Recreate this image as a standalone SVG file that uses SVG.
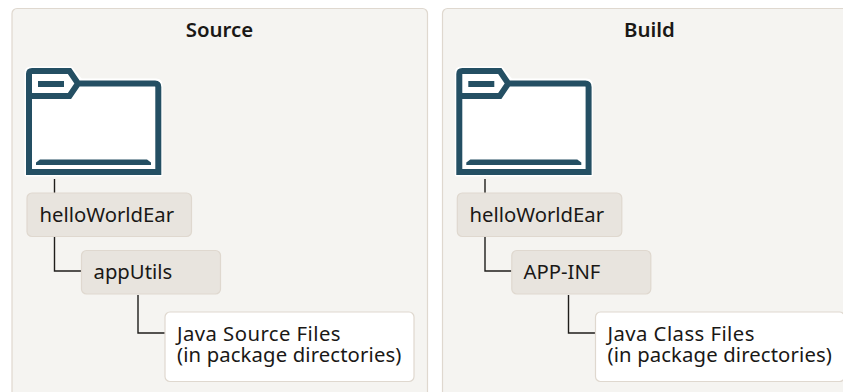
<svg xmlns="http://www.w3.org/2000/svg" width="843" height="392" viewBox="0 0 843 392">
<style>
text{font-family:"Noto Sans","Open Sans","Liberation Sans",sans-serif;font-size:20.300px;fill:#1a1816}
.t{font-weight:600;font-size:20.400px;text-anchor:middle}
.l1{letter-spacing:.45px}
.l2{letter-spacing:.13px}
.panel{fill:#f5f4f1;stroke:#dfd8cf;stroke-width:1.2}
.dir{fill:#e8e4de;stroke:#dfd8cf;stroke-width:1.2}
.file{fill:#fff;stroke:#dfd8cf;stroke-width:1.2}
.c{fill:none;stroke:#1f1d1b;stroke-width:1.4}
.halo{fill:#fff;stroke:#fff;stroke-width:3;stroke-linejoin:round}
.fo{fill:none;stroke:#244f63;stroke-width:6}
.fb{fill:#244f63}
</style>
<defs>
<g id="folder">
<path class="halo" d="M26 175V73Q26 68 31 68H71L81 80H156Q161 80 161 85V175Z"/>
<path class="fo" d="M29 172V74Q29 71 32 71H69.500L78 83.500H155Q158.300 83.500 158.300 87V172ZM29 96H69.500L78 83.500"/>
<rect class="fb" x="38" y="81" width="26" height="6"/>
<path class="fb" d="M36 162.500L40 159.500H147L151 162.500V165H36Z"/>
</g>
</defs>
<g id="panel-source">
<rect class="panel" x="12" y="8.500" width="415.500" height="400" rx="5"/>
<text class="t" x="219.500" y="36.500">Source</text>
</g>
<g id="panel-build">
<rect class="panel" x="442.500" y="8.500" width="415.500" height="400" rx="5"/>
<text class="t" x="649.500" y="36.500">Build</text>
</g>
<g id="connectors">
<path class="c" d="M54.500 179V193"/>
<path class="c" d="M54.500 237V271H81"/>
<path class="c" d="M138 295V333H165"/>
<path class="c" d="M485 179V193"/>
<path class="c" d="M485 237V271H511.500"/>
<path class="c" d="M568.500 295V333H595.500"/>
</g>
<g id="folder-source"><use href="#folder"/></g>
<g id="folder-build"><use href="#folder" x="430.300"/></g>
<g id="node-helloWorldEar-source">
<rect class="dir" x="27" y="193" width="164.500" height="43.500" rx="5"/>
<text x="39.500" y="221.500">helloWorldEar</text>
</g>
<g id="node-appUtils">
<rect class="dir" x="81.500" y="250.500" width="139" height="43.500" rx="5"/>
<text x="93.500" y="279">appUtils</text>
</g>
<g id="node-java-source">
<rect class="file" x="165" y="312" width="249" height="69.500" rx="5"/>
<text class="l1" x="177" y="340.500">Java Source Files</text>
<text class="l2" x="177" y="361.500">(in package directories)</text>
</g>
<g id="node-helloWorldEar-build">
<rect class="dir" x="457.300" y="193" width="164.500" height="43.500" rx="5"/>
<text x="469.500" y="221.500">helloWorldEar</text>
</g>
<g id="node-app-inf">
<rect class="dir" x="511.800" y="250.500" width="139" height="43.500" rx="5"/>
<text x="523.500" y="279">APP-INF</text>
</g>
<g id="node-java-build">
<rect class="file" x="595.500" y="312" width="249" height="69.500" rx="5"/>
<text class="l1" x="607.500" y="340.500">Java Class Files</text>
<text class="l2" x="607.500" y="361.500">(in package directories)</text>
</g>
</svg>
